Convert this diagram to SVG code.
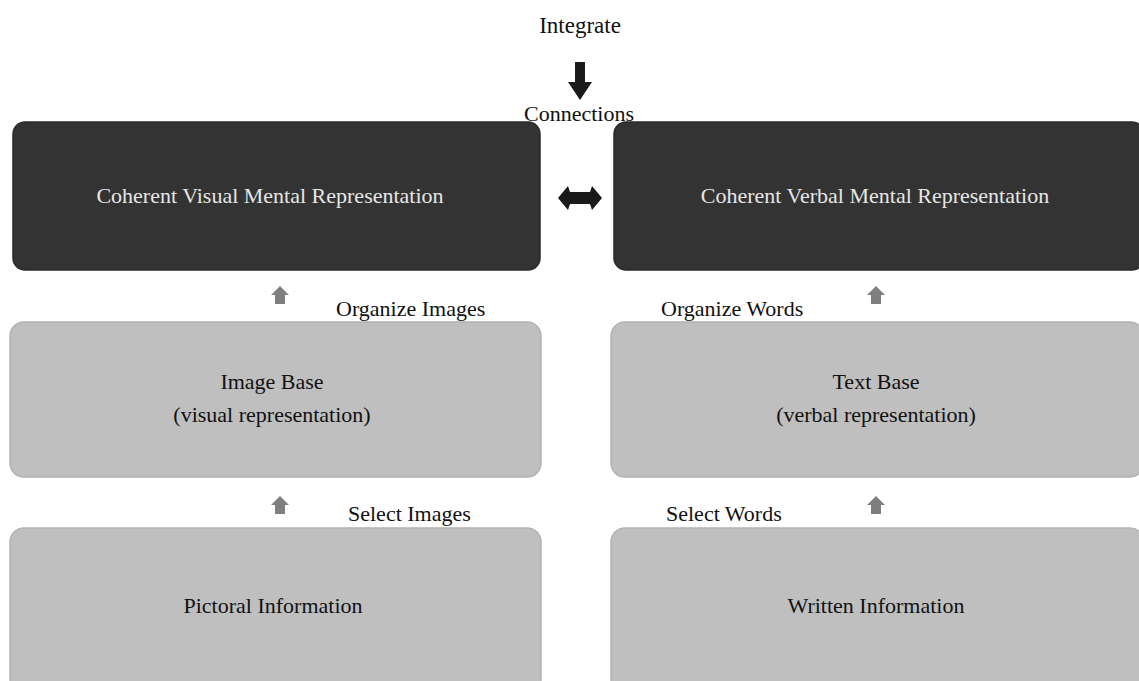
<svg xmlns="http://www.w3.org/2000/svg" width="1139" height="681" viewBox="0 0 1139 681">
<style>
text{font-family:"Liberation Serif","Times New Roman",serif;font-size:22px;fill:#111;}
.dark{fill:#333333;stroke:#2a2a2a;stroke-width:1.5;}
.light{fill:#bfbfbf;stroke:#b3b3b3;stroke-width:1.5;}
.wt{fill:#e6e6e6;text-anchor:middle;}
.ct{text-anchor:middle;}
.up{fill:#7f7f7f;}
</style>
<rect width="1139" height="681" fill="#ffffff"/>
<g id="visual-rep"><rect class="dark" x="13" y="122" width="527" height="148" rx="12"/><text class="wt" x="270" y="203">Coherent Visual Mental Representation</text></g>
<g id="verbal-rep"><rect class="dark" x="614" y="122" width="530" height="148" rx="12"/><text class="wt" x="875" y="203">Coherent Verbal Mental Representation</text></g>
<g id="image-base"><rect class="light" x="10" y="322" width="531" height="155" rx="14"/><text class="ct" x="272" y="389">Image Base</text><text class="ct" x="272" y="422">(visual representation)</text></g>
<g id="text-base"><rect class="light" x="611" y="322" width="533" height="155" rx="14"/><text class="ct" x="876" y="389">Text Base</text><text class="ct" x="876" y="422">(verbal representation)</text></g>
<g id="pictoral"><rect class="light" x="10" y="528" width="531" height="165" rx="14"/><text class="ct" x="273" y="613">Pictoral Information</text></g>
<g id="written"><rect class="light" x="611" y="528" width="533" height="165" rx="14"/><text class="ct" x="876" y="613">Written Information</text></g>
<g id="labels">
<text class="ct" x="580" y="33" style="font-size:23px">Integrate</text>
<text class="ct" x="579" y="121">Connections</text>
<text x="336" y="316">Organize Images</text>
<text x="661" y="316">Organize Words</text>
<text x="348" y="521">Select Images</text>
<text x="666" y="521">Select Words</text>
</g>
<g id="connectors">
<polygon points="575,62 585,62 585,82 592,82 580,100 568,82 575,82" fill="#1a1a1a"/>
<polygon points="558,198 568,186 570,192 590,192 592,186 602,198 592,210 590,204 570,204 568,210" fill="#1a1a1a"/>
<polygon class="up" points="280,286 289,295 285,295 285,304 275,304 275,295 271,295"/>
<polygon class="up" points="876,286 885,295 881,295 881,304 871,304 871,295 867,295"/>
<polygon class="up" points="280,496 289,505 285,505 285,514 275,514 275,505 271,505"/>
<polygon class="up" points="876,496 885,505 881,505 881,514 871,514 871,505 867,505"/>
</g>
</svg>
